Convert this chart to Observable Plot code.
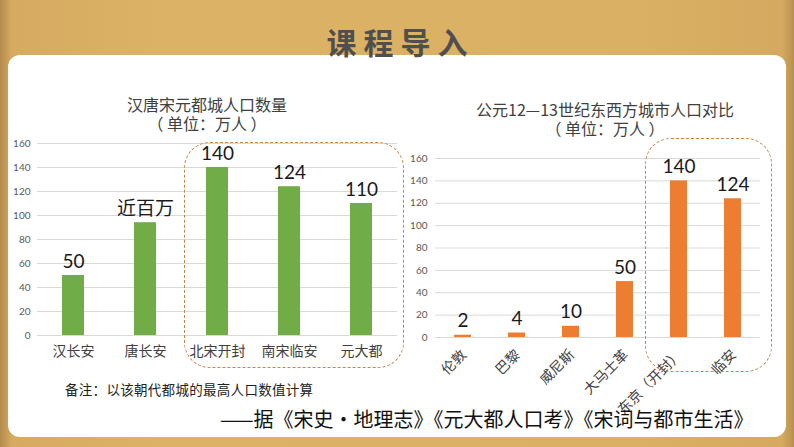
<!DOCTYPE html>
<html><head><meta charset="utf-8">
<script src="https://cdn.jsdelivr.net/npm/d3@7"></script>
<script src="https://cdn.jsdelivr.net/npm/@observablehq/plot@0.6"></script>
<style>
html,body{margin:0;padding:0;}
body{width:794px;height:447px;overflow:hidden;font-family:"Noto Sans CJK SC",sans-serif;
 background:linear-gradient(90deg,#b48a4c 0%,#d6ab61 1.5%,#dcb267 20%,#dab065 80%,#d5aa60 98.5%,#b8904f 100%);}
#stage{position:relative;width:794px;height:447px;}
.panel{position:absolute;left:8px;top:55px;width:778px;height:382px;background:#fff;border-radius:12px;}
.title{position:absolute;left:0;width:794px;top:21px;text-align:center;font-size:30px;font-weight:bold;color:#4f4f4f;letter-spacing:7px;text-indent:7px;line-height:40px;}
.ctitle{position:absolute;text-align:center;font-size:16px;color:#404040;line-height:19px;white-space:pre;}
.box{position:absolute;border:1.3px dashed #c98449;border-radius:26px;box-sizing:border-box;}
.chart{position:absolute;}
.note{position:absolute;left:65px;top:379px;font-size:13.5px;color:#222;letter-spacing:0.3px;}
.src{position:absolute;left:220px;top:404px;font-size:20px;color:#111;letter-spacing:0px;white-space:nowrap;}
</style></head>
<body><div id="stage">
<div class="panel"></div>
<div class="title">课程导入</div>
<div class="ctitle" style="left:82px;width:250px;top:95px;">汉唐宋元都城人口数量
（ 单位：万人 ）</div>
<div class="ctitle" style="left:455px;width:300px;top:100px;">公元12—13世纪东西方城市人口对比
（ 单位：万人 ）</div>
<div id="left" class="chart" style="left:0;top:130px;"></div>
<div id="right" class="chart" style="left:400px;top:145px;"></div>
<div class="box" style="left:184px;top:142px;width:220px;height:226px;"></div>
<div class="box" style="left:645px;top:138px;width:127px;height:234px;"></div>
<div class="note">备注：以该朝代都城的最高人口数值计算</div>
<div class="src">——据《宋史·地理志》《元大都人口考》《宋词与都市生活》</div>
</div>
<script>
const leftCities = ["汉长安","唐长安","北宋开封","南宋临安","元大都"];
const leftValues = [50,94,140,124,110];
const leftLabels = ["50","近百万","140","124","110"];
const rightCities = ["伦敦","巴黎","威尼斯","大马士革","东京（开封）","临安"];
const rightValues = [2,4,10,50,140,124];
const rightLabels = ["2","4","10","50","140","124"];
const yTicks = [0,20,40,60,80,100,120,140,160];

const font = "Lato, 'Noto Sans CJK SC', sans-serif";
const leftData = leftCities.map((c,i)=>({city:c,value:leftValues[i],label:leftLabels[i]}));
const rightData = rightCities.map((c,i)=>({city:c,value:rightValues[i],label:rightLabels[i]}));

const left = Plot.plot({
  width:410,height:240,marginTop:13,marginBottom:35,marginLeft:37,marginRight:13,
  style:{background:"transparent",overflow:"visible",fontFamily:font},
  x:{domain:leftCities,paddingInner:0.69,paddingOuter:0.345,label:null},
  y:{domain:[0,160],label:null},
  marks:[
    Plot.gridY(yTicks,{stroke:"#d9d9d9",strokeOpacity:1}),
    Plot.axisY(yTicks,{tickSize:0,tickPadding:7,fontSize:10,fill:"#595959",label:null}),
    Plot.axisX({tickSize:0,tickPadding:11,fontSize:14,fill:"#404040",label:null,fontFamily:"'Noto Sans CJK SC',sans-serif"}),
    Plot.barY(leftData,{x:"city",y:"value",fill:"#70AD47"}),
    Plot.text(leftData,{x:"city",y:"value",text:"label",dy:-14,fontSize:19,fill:"#1a1a1a"})
  ]
});
document.getElementById("left").appendChild(left);

const right = Plot.plot({
  width:394,height:292,marginTop:13,marginBottom:100,marginLeft:35,marginRight:34,
  style:{background:"transparent",overflow:"visible",fontFamily:font},
  x:{domain:rightCities,paddingInner:0.69,paddingOuter:0.345,label:null},
  y:{domain:[0,160],label:null},
  marks:[
    Plot.gridY(yTicks,{stroke:"#d9d9d9",strokeOpacity:1}),
    Plot.axisY(yTicks,{tickSize:0,tickPadding:8,fontSize:10,fill:"#595959",label:null}),
    Plot.axisX({tickSize:0,tickPadding:15,tickRotate:-45,dx:1,fontSize:14,fill:"#404040",label:null,fontFamily:"'Noto Sans CJK SC',sans-serif"}),
    Plot.barY(rightData,{x:"city",y:"value",fill:"#ED7D31"}),
    Plot.text(rightData,{x:"city",y:"value",text:"label",dy:-14,fontSize:19,fill:"#1a1a1a"})
  ]
});
document.getElementById("right").appendChild(right);
</script>
</body></html>
